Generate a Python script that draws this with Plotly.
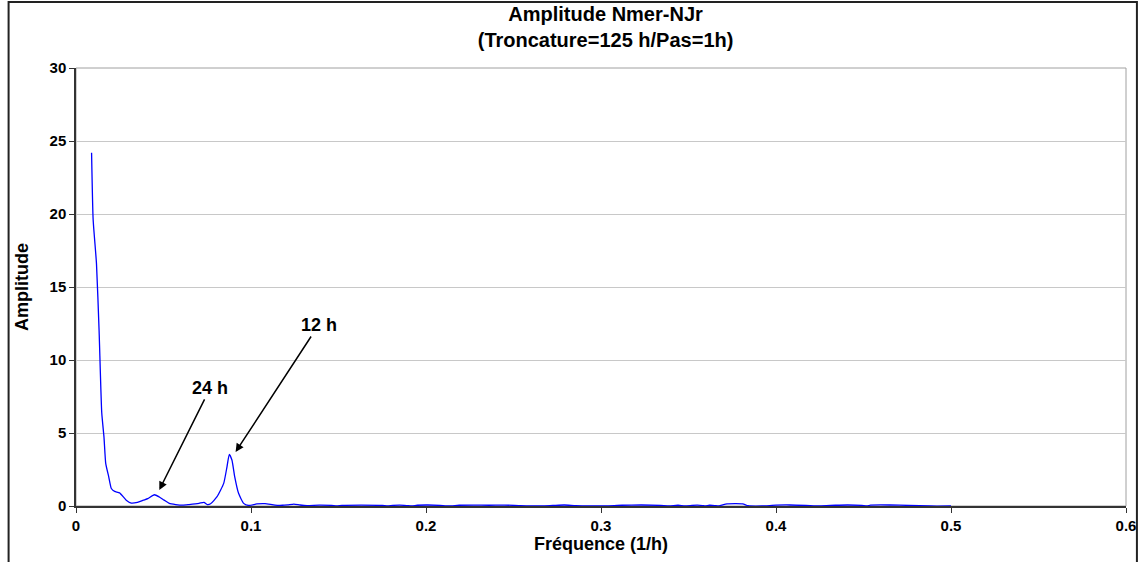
import plotly.graph_objects as go

# spectre d'amplitude
freq = [
    0.0089, 0.0098, 0.0117, 0.0132, 0.0147, 0.016, 0.017, 0.0187, 0.0202, 0.0221,
    0.0249, 0.0287, 0.0316, 0.0351, 0.0385, 0.041, 0.0448, 0.0476, 0.0504, 0.0533,
    0.057, 0.061, 0.0646, 0.0703, 0.0731, 0.075, 0.0769, 0.0806, 0.0844, 0.0863,
    0.0876, 0.0891, 0.0907, 0.0929, 0.0958, 0.0986, 0.1033, 0.108, 0.1137, 0.118,
    0.121, 0.1245, 0.128, 0.132, 0.139, 0.146, 0.149, 0.152, 0.163, 0.175,
    0.178, 0.181, 0.185, 0.189, 0.192, 0.195, 0.201, 0.208, 0.213, 0.219,
    0.227, 0.236, 0.245, 0.253, 0.263, 0.2725, 0.279, 0.2856, 0.299, 0.312,
    0.323, 0.334, 0.339, 0.344, 0.348, 0.352, 0.355, 0.358, 0.3595, 0.362,
    0.365, 0.367, 0.369, 0.372, 0.381, 0.384, 0.392, 0.400, 0.408, 0.417,
    0.425, 0.434, 0.441, 0.449, 0.452, 0.454, 0.465, 0.476, 0.488, 0.5,
]
amplitude = [
    24.2, 19.6, 16.6, 12.0, 6.4, 4.7, 2.9, 2.0, 1.2, 1.0,
    0.9, 0.4, 0.2, 0.25, 0.4, 0.5, 0.77, 0.62, 0.4, 0.18,
    0.1, 0.06, 0.1, 0.18, 0.25, 0.1, 0.15, 0.64, 1.55, 2.7,
    3.54, 3.15, 2.0, 0.87, 0.18, 0.04, 0.14, 0.16, 0.06, 0.05,
    0.08, 0.13, 0.07, 0.03, 0.06, 0.04, 0.0, 0.04, 0.06, 0.04,
    0.0, 0.04, 0.06, 0.03, 0.0, 0.05, 0.07, 0.04, 0.0, 0.05,
    0.06, 0.05, 0.06, 0.03, 0.0, 0.04, 0.07, 0.03, 0.0, 0.05,
    0.07, 0.04, 0.0, 0.05, 0.0, 0.04, 0.06, 0.03, 0.0, 0.05,
    0.03, 0.0, 0.06, 0.15, 0.15, 0.02, 0.0, 0.06, 0.07, 0.04,
    0.0, 0.05, 0.07, 0.04, 0.0, 0.06, 0.07, 0.04, 0.0, 0.0,
]

# annotations : (texte, fréquence, amplitude, décalage x, décalage y)
labels = [
    ("24 h", 0.0476, 1.1, 51, -102),
    ("12 h", 0.0912, 3.7, 83, -127),
]

FONT = "Liberation Sans, Arial, sans-serif"

fig = go.Figure()
fig.add_trace(
    go.Scatter(
        x=freq,
        y=amplitude,
        mode="lines",
        line=dict(color="#0000ff", width=1.3, shape="spline", smoothing=0.5),
        showlegend=False,
    )
)

for text, fx, fy, ax, ay in labels:
    fig.add_annotation(
        x=fx, y=fy, text=f"<b>{text}</b>",
        showarrow=True, arrowhead=2, arrowsize=1.1, arrowwidth=1.5,
        arrowcolor="black", ax=ax, ay=ay,
        font=dict(family=FONT, size=18, color="black"),
    )

fig.update_layout(
    width=1148,
    height=562,
    margin=dict(l=76, r=13, t=68, b=56),
    paper_bgcolor="white",
    plot_bgcolor="white",
    title=dict(
        text="<b>Amplitude Nmer-NJr<br>(Troncature=125 h/Pas=1h)</b>",
        x=0.5275, xanchor="center", y=0.962, yanchor="middle",
        font=dict(family=FONT, size=20, color="black"),
    ),
    xaxis=dict(
        range=[0, 0.6], dtick=0.1, showgrid=False, zeroline=False,
        showline=True, linecolor="#333", linewidth=1.5,
        ticks="outside", ticklen=5, tickcolor="#333",
        tickfont=dict(family=FONT, size=15, color="black", weight="bold"),
        title=dict(text="<b>Fréquence (1/h)</b>", standoff=2,
                   font=dict(family=FONT, size=18, color="black")),
    ),
    yaxis=dict(
        range=[0, 30], dtick=5, showgrid=True, gridcolor="#c8c8c8", gridwidth=1,
        zeroline=False, showline=True, linecolor="#333", linewidth=1.5,
        ticks="outside", ticklen=5, tickcolor="#333",
        tickfont=dict(family=FONT, size=15, color="black", weight="bold"),
        title=dict(text="<b>Amplitude</b>", standoff=16,
                   font=dict(family=FONT, size=18, color="black")),
    ),
    shapes=[
        dict(type="rect", xref="paper", yref="paper", x0=0, y0=0, x1=1, y1=1,
             line=dict(color="#a0a0a0", width=1), layer="below"),
        dict(type="rect", xref="paper", yref="paper",
             x0=-0.0642, y0=-0.2, x1=1.0104, y1=1.1507,
             line=dict(color="#222", width=2)),
    ],
)

fig.write_html(
    "out.html",
    config={"displayModeBar": False},
    post_script=(
        "document.documentElement.style.overflow='hidden';"
        "document.body.style.overflow='hidden';"
        "document.body.style.margin='0';"
        "Plotly.relayout(document.getElementById('{plot_id}'),"
        "{width:1148,height:562});"
    ),
)
